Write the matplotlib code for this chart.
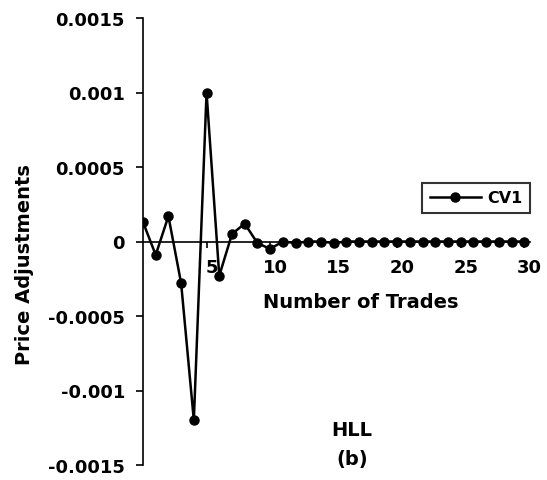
import matplotlib
matplotlib.use("Agg")
import matplotlib.pyplot as plt
from matplotlib.transforms import ScaledTranslation

# Price adjustment response after a shock, by number of trades
trades = list(range(0, 31))
cv1 = [0.00013, -0.00009, 0.00017, -0.00028, -0.0012, 0.001, -0.00023,
       0.00005, 0.00012, -0.00001, -0.00005, 0.0, -0.00001, 0.0, 0.0,
       -0.00001, 0.0, 0.0, 0.0, 0.0, 0.0, 0.0, 0.0, 0.0, 0.0, 0.0, 0.0,
       0.0, 0.0, 0.0, 0.0]

x_ticks = [5, 10, 15, 20, 25, 30]
y_ticks = [-0.0015, -0.001, -0.0005, 0, 0.0005, 0.001, 0.0015]
y_tick_labels = ["-0.0015", "-0.001", "-0.0005", "0", "0.0005", "0.001", "0.0015"]

plt.rcParams["font.family"] = ["DejaVu Sans"]

fig = plt.figure(figsize=(5.47, 4.81), dpi=100)
ax = fig.add_axes([143 / 547, 1 - 466 / 481, (530 - 143) / 547, (466 - 19) / 481])

ax.plot(trades, cv1, color="black", lw=1.8, marker="o", ms=6.5,
        mfc="black", mec="black", label="CV1", zorder=3)

ax.set_xlim(0, 30.45)
ax.set_ylim(-0.0015, 0.0015)

# Axis lines: vertical at x=0, horizontal through zero
ax.spines["left"].set_position(("data", 0))
ax.spines["bottom"].set_position(("data", 0))
ax.spines["top"].set_visible(False)
ax.spines["right"].set_visible(False)
for s in ("left", "bottom"):
    ax.spines[s].set_linewidth(1.2)
    ax.spines[s].set_color("black")

ax.set_yticks(y_ticks)
ax.set_yticklabels(y_tick_labels)
ax.set_xticks(x_ticks)
ax.set_xticklabels([str(t) for t in x_ticks])
ax.tick_params(axis="y", direction="out", length=5, width=1.2, pad=8,
               labelsize=13)
ax.tick_params(axis="x", direction="out", length=4, width=1.2, pad=8,
               labelsize=13)
for lab in ax.get_yticklabels() + ax.get_xticklabels():
    lab.set_fontweight("bold")
shift = ScaledTranslation(5 / 100, 0, fig.dpi_scale_trans)
for lab in ax.get_xticklabels():
    lab.set_transform(lab.get_transform() + shift)

fig.text(25 / 547, 1 - 265 / 481, "Price Adjustments", rotation=90,
         ha="center", va="center", fontsize=14, fontweight="bold")
fig.text(361 / 547, 1 - 303 / 481, "Number of Trades", ha="center",
         va="center", fontsize=14, fontweight="bold")
fig.text(352 / 547, 1 - 430 / 481, "HLL", ha="center", va="center",
         fontsize=14, fontweight="bold")
fig.text(352 / 547, 1 - 460 / 481, "(b)", ha="center", va="center",
         fontsize=14, fontweight="bold")

leg = ax.legend(loc="center", bbox_to_anchor=((476 - 143) / (530 - 143),
                                                (481 - 199 - 15) / 447),
                frameon=True, fancybox=False, edgecolor="black",
                fontsize=11.5, handlelength=3.2, handletextpad=0.4,
                borderpad=0.45, borderaxespad=0)
leg.get_frame().set_linewidth(1.5)
for t in leg.get_texts():
    t.set_fontweight("bold")

fig.savefig("out.png", dpi=100, facecolor="white")
